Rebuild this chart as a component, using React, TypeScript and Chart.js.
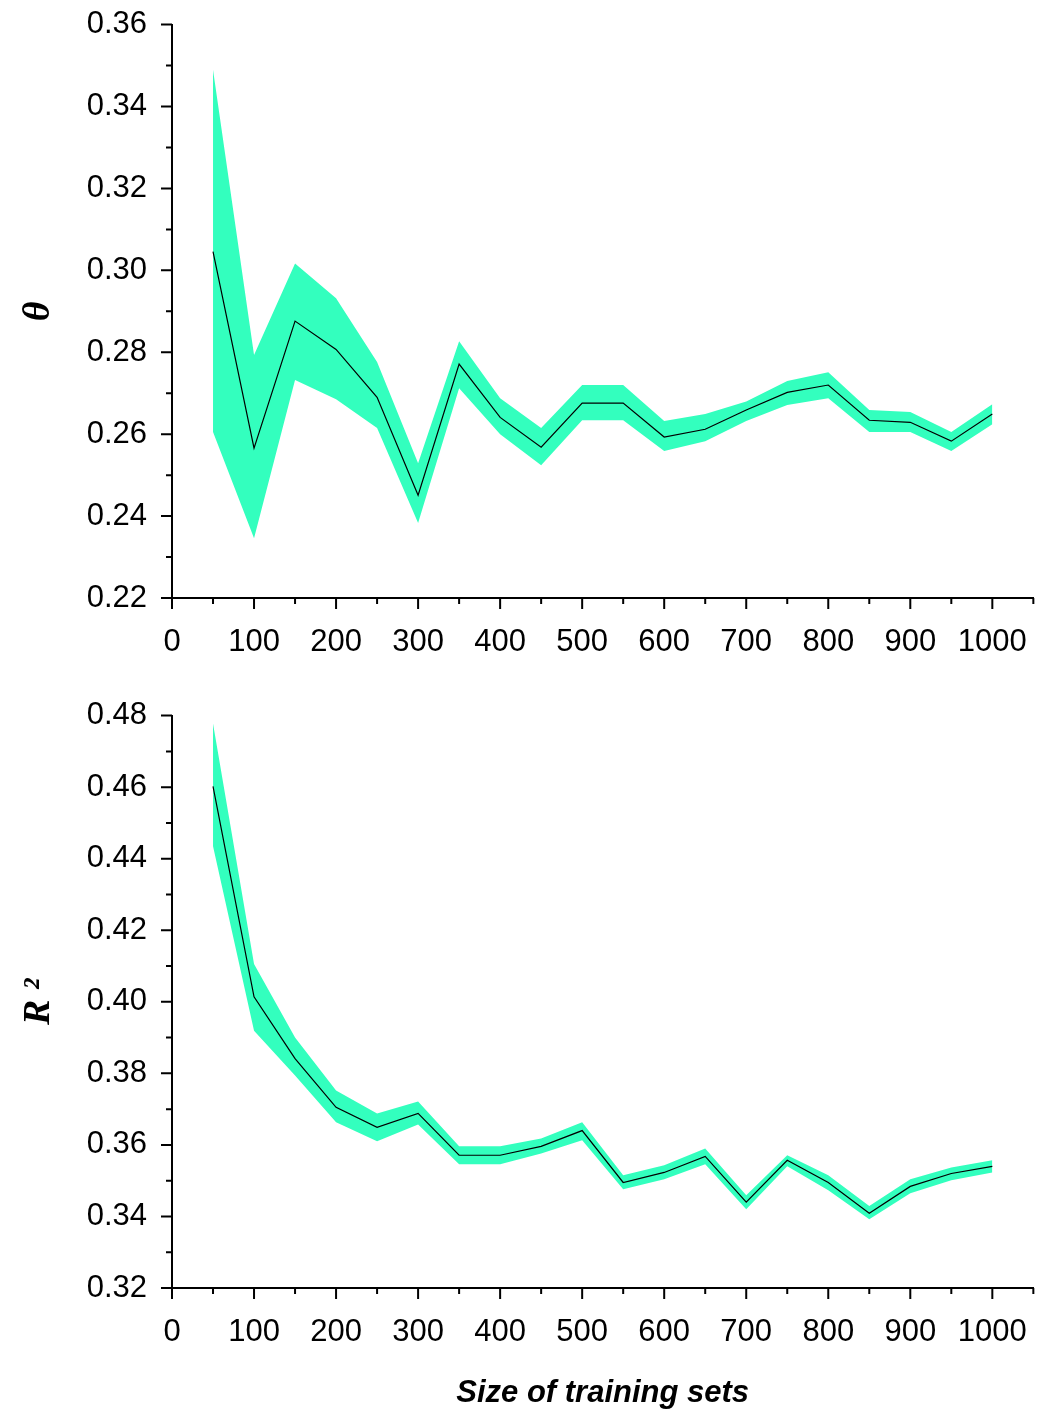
import { useEffect, useRef } from 'react';
import Chart from 'chart.js/auto';

const sizes = [50, 100, 150, 200, 250, 300, 350, 400, 450, 500, 550, 600, 650, 700, 750, 800, 850, 900, 950, 1000];

const thetaMean = [0.3046, 0.2566, 0.2876, 0.2807, 0.269, 0.2451, 0.2771, 0.2641, 0.2568, 0.2676, 0.2676, 0.2593, 0.2612, 0.2659, 0.2702, 0.272, 0.2634, 0.2629, 0.2583, 0.2649];
const thetaUpper = [0.349, 0.2793, 0.3017, 0.2932, 0.2776, 0.2529, 0.2827, 0.2688, 0.2615, 0.272, 0.272, 0.2632, 0.2649, 0.268, 0.273, 0.2751, 0.2659, 0.2654, 0.2605, 0.2673];
const thetaLower = [0.2605, 0.2346, 0.2732, 0.2685, 0.2615, 0.2383, 0.2712, 0.26, 0.2524, 0.2634, 0.2634, 0.2559, 0.2583, 0.2632, 0.2671, 0.2688, 0.2605, 0.2605, 0.2559, 0.2624];

const r2Mean = [0.4602, 0.4014, 0.3841, 0.3705, 0.3649, 0.3688, 0.3571, 0.3571, 0.3596, 0.364, 0.3495, 0.3523, 0.3568, 0.344, 0.3557, 0.3495, 0.3409, 0.3484, 0.352, 0.354];
const r2Upper = [0.4778, 0.4106, 0.39, 0.3752, 0.3688, 0.3721, 0.3596, 0.3596, 0.3618, 0.3663, 0.3515, 0.3543, 0.359, 0.3459, 0.3571, 0.3515, 0.3429, 0.3504, 0.3537, 0.3557];
const r2Lower = [0.4435, 0.3919, 0.3794, 0.3663, 0.361, 0.3657, 0.3546, 0.3546, 0.3576, 0.3613, 0.3476, 0.3504, 0.3546, 0.342, 0.354, 0.3473, 0.3392, 0.3465, 0.3501, 0.3523];

const xTicks = [0, 100, 200, 300, 400, 500, 600, 700, 800, 900, 1000];
const xMinor = [50, 150, 250, 350, 450, 550, 650, 750, 850, 950, 1050];

const BAND = 'rgb(51,255,190)';
const FONT = '"Liberation Sans", Arial, sans-serif';
const W = 1045;

const tickPlugin = {
    id: 'minorTicks',
    afterDraw(chart: any) {
        const ctx = chart.ctx;
        const x = chart.scales.x;
        const y = chart.scales.y;
        const a = chart.chartArea;
        ctx.save();
        ctx.strokeStyle = '#000';
        ctx.lineWidth = 2;
        ctx.beginPath();
        xTicks.forEach((v) => { const px = x.getPixelForValue(v); ctx.moveTo(px, a.bottom); ctx.lineTo(px, a.bottom + 11); });
        xMinor.forEach((v) => { const px = x.getPixelForValue(v); ctx.moveTo(px, a.bottom); ctx.lineTo(px, a.bottom + 6); });
        const { min, max } = y;
        for (let i = 0; i <= Math.round((max - min) / 0.01); i++) {
            const py = y.getPixelForValue(min + i * 0.01);
            const len = i % 2 === 0 ? 11 : 6;
            ctx.moveTo(a.left, py);
            ctx.lineTo(a.left - len, py);
        }
        ctx.stroke();
        ctx.restore();
    },
};

function Panel({ mean, upper, lower, yMin, yMax, yTitle, xTitle, height, padTop, xHeight, shift }: any) {
    const ref = useRef<HTMLCanvasElement | null>(null);

    useEffect(() => {
        if (!ref.current) return;
        const pts = (arr: number[]) => arr.map((v, i) => ({ x: sizes[i], y: v }));
        const chart = new Chart(ref.current, {
            type: 'line',
            data: {
                datasets: [
                    { data: pts(lower), borderWidth: 0, pointRadius: 0, fill: false, backgroundColor: BAND, borderColor: BAND, order: 2 },
                    { data: pts(upper), borderWidth: 0, pointRadius: 0, fill: '-1', backgroundColor: BAND, borderColor: BAND, order: 1 },
                    { data: pts(mean), borderWidth: 1.2, borderColor: '#000', pointRadius: 0, fill: false, order: 0 },
                ],
            },
            options: {
                responsive: false,
                animation: false,
                plugins: { legend: { display: false }, tooltip: { enabled: false } },
                layout: { padding: { top: padTop, right: 4, left: 0, bottom: 0 } },
                scales: {
                    x: {
                        type: 'linear',
                        min: 0,
                        max: 1050,
                        afterBuildTicks: (s: any) => { s.ticks = xTicks.map((v) => ({ value: v })); },
                        afterFit: (s: any) => { s.height = xHeight; },
                        grid: { display: false },
                        border: { display: true, color: '#000', width: 2 },
                        ticks: { color: '#000', font: { family: FONT, size: 31 }, padding: 18, maxRotation: 0, autoSkip: false, callback: (v: any) => String(v) },
                        title: xTitle
                            ? { display: true, text: xTitle, color: '#000', font: { family: FONT, size: 31, weight: 'bold', style: 'italic' }, padding: { top: 10 } }
                            : { display: false },
                    },
                    y: {
                        min: yMin,
                        max: yMax,
                        afterBuildTicks: (s: any) => {
                            const t = [];
                            for (let v = yMin; v <= yMax + 1e-9; v += 0.02) t.push({ value: v });
                            s.ticks = t;
                        },
                        afterFit: (s: any) => { s.width = 172; },
                        grid: { display: false },
                        border: { display: true, color: '#000', width: 2 },
                        ticks: { color: '#000', font: { family: FONT, size: 31 }, padding: 17, callback: (v: any) => Number(v).toFixed(2) },
                        title: { display: true, text: yTitle, color: '#000', font: { family: '"Liberation Serif", serif', size: 38, weight: 'bold', style: 'italic' }, padding: { top: 16, bottom: 0 } },
                    },
                },
            },
            plugins: [tickPlugin],
        });
        return () => chart.destroy();
    }, []);

    return <canvas ref={ref} width={W} height={height} style={{ display: 'block', width: W, height, marginTop: shift || 0 }} />;
}

export default function App() {
    return (
        <div style={{ position: 'absolute', left: 0, top: 0, width: 1037, height: 1416, background: '#fff', overflow: 'hidden' }}>
            <Panel mean={thetaMean} upper={thetaUpper} lower={thetaLower} yMin={0.22} yMax={0.36} yTitle="θ" height={691} padTop={7} xHeight={82} shift={-11} />
            <Panel mean={r2Mean} upper={r2Upper} lower={r2Lower} yMin={0.32} yMax={0.48} yTitle="R ²" xTitle="Size of training sets" height={736} padTop={33} xHeight={128} />
        </div>
    );
}
